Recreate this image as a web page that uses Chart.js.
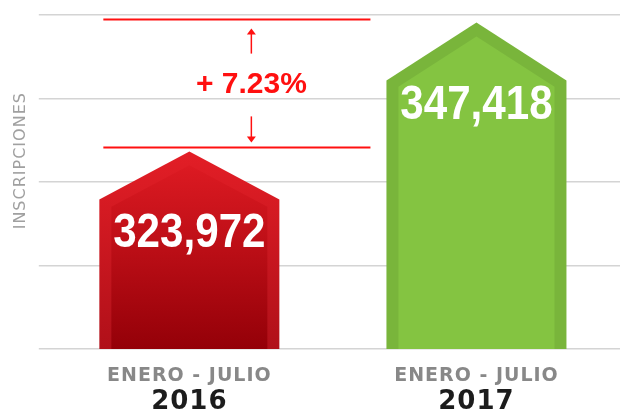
<!DOCTYPE html>
<html>
<head>
<meta charset="utf-8">
<script src="https://cdn.jsdelivr.net/npm/chart.js@4.4.0/dist/chart.umd.min.js"></script>
<style>
  html, body { margin: 0; padding: 0; background: #fff; }
  #wrap { width: 620px; height: 414px; position: relative; }
</style>
</head>
<body>
<div id="wrap"><canvas id="inscChart"></canvas></div>
<script>
// datos
const years = ['2016', '2017'];
const periods = ['ENERO - JULIO', 'ENERO - JULIO'];
const inscripciones = [323972, 347418];
const changeLabel = '+ 7.23%';

// estilo de las "casas"
const roofHeights = [48, 58];
const rimColors = [['#e31e26', '#b01019'], ['#79b53b', '#79b53b']];
const bodyColors = [['#e21c24', '#940008'], ['#84c441', '#84c441']];
const red = '#ff1010';

function housePath(ctx, x, top, half, roof, base) {
  ctx.beginPath();
  ctx.moveTo(x, top);
  ctx.lineTo(x + half, top + roof);
  ctx.lineTo(x + half, base);
  ctx.lineTo(x - half, base);
  ctx.lineTo(x - half, top + roof);
  ctx.closePath();
}

function arrow(ctx, x, yFrom, yTo) {
  const dir = yTo < yFrom ? -1 : 1;
  ctx.beginPath();
  ctx.moveTo(x, yFrom);
  ctx.lineTo(x, yTo - dir * 5);
  ctx.stroke();
  ctx.beginPath();
  ctx.moveTo(x, yTo);
  ctx.lineTo(x - 4.5, yTo - dir * 6);
  ctx.lineTo(x + 4.5, yTo - dir * 6);
  ctx.closePath();
  ctx.fill();
}

const housePlugin = {
  id: 'house',
  beforeDraw(chart) { chart.ctx.letterSpacing = '1px'; },
  beforeDatasetsDraw(chart) { chart.ctx.letterSpacing = '0px'; },
  afterDatasetsDraw(chart) {
    const ctx = chart.ctx;
    const meta = chart.getDatasetMeta(0);
    const bottom = chart.chartArea.bottom;
    meta.data.forEach(function (bar, i) {
      const half = bar.width / 2;
      const top = bar.y, base = Math.min(bar.base, bottom), roof = roofHeights[i];
      ctx.save();
      // borde
      let g = ctx.createLinearGradient(0, top, 0, base);
      g.addColorStop(0, rimColors[i][0]);
      g.addColorStop(1, rimColors[i][1]);
      housePath(ctx, bar.x, top, half, roof, base);
      ctx.fillStyle = g;
      ctx.fill();
      // cuerpo
      const d = 12;
      const slope = roof / half;
      const innerTop = top + d * 1.15;
      g = ctx.createLinearGradient(0, top, 0, base);
      g.addColorStop(0, bodyColors[i][0]);
      g.addColorStop(1, bodyColors[i][1]);
      housePath(ctx, bar.x, innerTop, half - d, slope * (half - d), base);
      ctx.fillStyle = g;
      ctx.fill();
      // valor
      ctx.fillStyle = '#ffffff';
      ctx.font = 'bold 49px "Liberation Sans", Arial, sans-serif';
      ctx.textAlign = 'center';
      ctx.textBaseline = 'alphabetic';
      ctx.translate(bar.x, top + 96);
      ctx.scale(0.86, 1);
      ctx.fillText(inscripciones[i].toLocaleString('en-US'), 0, 0);
      ctx.restore();
    });

    // anotacion del cambio
    const b0 = meta.data[0], b1 = meta.data[1];
    const yHi = chart.scales.y.getPixelForValue(inscripciones[1]) - 3;
    const yLo = chart.scales.y.getPixelForValue(inscripciones[0]) - 4;
    const xL = b0.x - b0.width / 2 + 4;
    const xR = b1.x - b1.width / 2 - 16;
    const ax = b0.x + 62;
    ctx.save();
    ctx.strokeStyle = red;
    ctx.fillStyle = red;
    ctx.lineWidth = 2;
    ctx.beginPath();
    ctx.moveTo(xL, yHi); ctx.lineTo(xR, yHi);
    ctx.moveTo(xL, yLo); ctx.lineTo(xR, yLo);
    ctx.stroke();
    ctx.lineWidth = 1.5;
    arrow(ctx, ax, yHi + 34, yHi + 9);
    arrow(ctx, ax, yLo - 31, yLo - 5);
    ctx.font = 'bold 30px "Liberation Sans", Arial, sans-serif';
    ctx.textAlign = 'center';
    ctx.textBaseline = 'alphabetic';
    ctx.fillText(changeLabel, ax, yLo - 54);
    ctx.restore();
  }
};

const ctx = document.getElementById('inscChart').getContext('2d');
const myChart = new Chart(ctx, {
  type: 'bar',
  data: {
    labels: years,
    datasets: [{
      label: 'Inscripciones',
      data: inscripciones,
      backgroundColor: 'rgba(0,0,0,0)',
      borderWidth: 0,
      barPercentage: 0.627,
      categoryPercentage: 1
    }]
  },
  options: {
    responsive: true,
    maintainAspectRatio: false,
    animation: false,
    layout: { padding: { top: 15, right: -7, left: 0, bottom: 11 } },
    plugins: {
      legend: { display: false },
      tooltip: { enabled: false }
    },
    scales: {
      x: {
        weight: 0,
        grid: { display: false, drawTicks: false },
        border: { display: false },
        ticks: {
          padding: 12.1,
          color: '#888888',
          font: { family: '"DejaVu Sans", sans-serif', size: 19, weight: 'bold', lineHeight: 1.568 },
          callback: function (value, index) { return periods[index]; }
        }
      },
      x2: {
        type: 'category',
        position: 'bottom',
        weight: 1,
        labels: years,
        offset: true,
        grid: { display: false, drawTicks: false },
        border: { display: false },
        ticks: {
          mirror: true,
          padding: 0,
          color: '#1c1c1c',
          font: { family: '"DejaVu Sans", sans-serif', size: 26, weight: 'bold', lineHeight: 0.08 }
        }
      },
      y: {
        min: 288000,
        max: 348800,
        border: { display: false },
        grid: { color: '#d4d4d4', lineWidth: 1.5, drawTicks: true, tickLength: 7 },
        ticks: { count: 5, display: false },
        title: {
          display: true,
          text: '\u00a0\u00a0\u00a0\u00a0\u00a0\u00a0\u00a0INSCRIPCIONES',
          color: '#a0a0a0',
          padding: { top: 11, bottom: 8.6 },
          font: { family: '"DejaVu Sans", sans-serif', size: 16, weight: 'normal', lineHeight: 1.2 }
        }
      }
    }
  },
  plugins: [housePlugin]
});
</script>
</body>
</html>
